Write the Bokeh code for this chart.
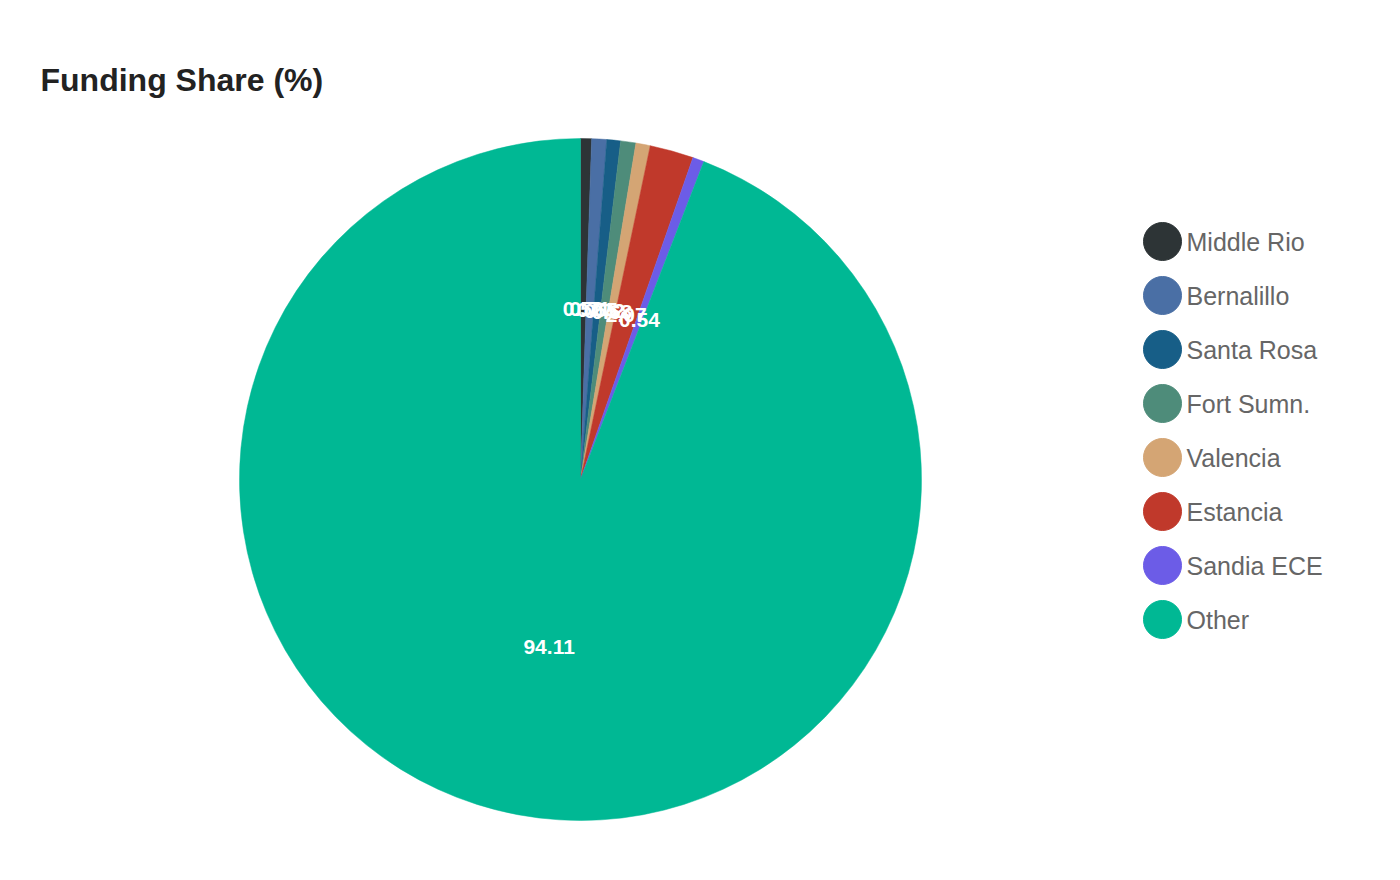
import math

from bokeh.core.properties import value
from bokeh.embed import file_html
from bokeh.models import ColumnDataSource, Range1d
from bokeh.plotting import figure
from bokeh.resources import INLINE

# data
categories = ["Middle Rio", "Bernalillo", "Santa Rosa", "Fort Sumn.",
              "Valencia", "Estancia", "Sandia ECE", "Other"]
shares = [0.52, 0.71, 0.65, 0.72, 0.68, 2.07, 0.54, 94.11]
colors = ["#2d3436", "#4a6fa5", "#175e87", "#4e8c7a",
          "#d4a574", "#c0392b", "#6c5ce7", "#00b894"]

W, H = 1384, 864
cx, cy, r = 580, 385, 341

total = sum(shares)
starts, ends, lx, ly = [], [], [], []
acc = 0.0
for s in shares:
    a0 = acc / total * 2 * math.pi
    acc += s
    a1 = acc / total * 2 * math.pi
    starts.append(math.pi / 2 - a0)
    ends.append(math.pi / 2 - a1)
    mid = (a0 + a1) / 2
    lx.append(cx + r * 0.5 * math.sin(mid))
    ly.append(cy + r * 0.5 * math.cos(mid))

src = ColumnDataSource(dict(cat=categories, share=shares, color=colors,
                            start=starts, end=ends, lx=lx, ly=ly,
                            label=["%.2f" % s for s in shares]))

p = figure(width=W, height=H, output_backend="svg", toolbar_location=None,
           x_range=Range1d(0, W), y_range=Range1d(0, H), min_border=0)
p.axis.visible = False
p.grid.visible = False
p.outline_line_color = None

p.wedge(x=cx, y=cy, radius=r, start_angle="start", end_angle="end",
        direction="clock", fill_color="color", line_color="color",
        line_width=0.5, source=src)

p.text(x="lx", y="ly", text="label", text_color="white",
       text_font=value("Liberation Sans"), text_font_style="bold",
       text_font_size="21px", text_align="center", text_baseline="middle",
       source=src)

# title
p.text(x=[40], y=[785], text=["Funding Share (%)"], text_color="#222222",
       text_font=value("Liberation Sans"), text_font_style="bold",
       text_font_size="32px", text_baseline="alphabetic")

# legend
leg = ColumnDataSource(dict(x=[1162] * len(categories),
                            y=[623 - 54 * i for i in range(len(categories))],
                            tx=[1186] * len(categories),
                            cat=categories, color=colors))
p.scatter(x="x", y="y", size=38, fill_color="color", line_color="color",
          source=leg)
p.text(x="tx", y="y", text="cat", text_color="#666666",
       text_font=value("Liberation Sans"), text_font_size="25px",
       text_baseline="middle", source=leg)

open("out.html", "w").write(file_html(p, INLINE))
